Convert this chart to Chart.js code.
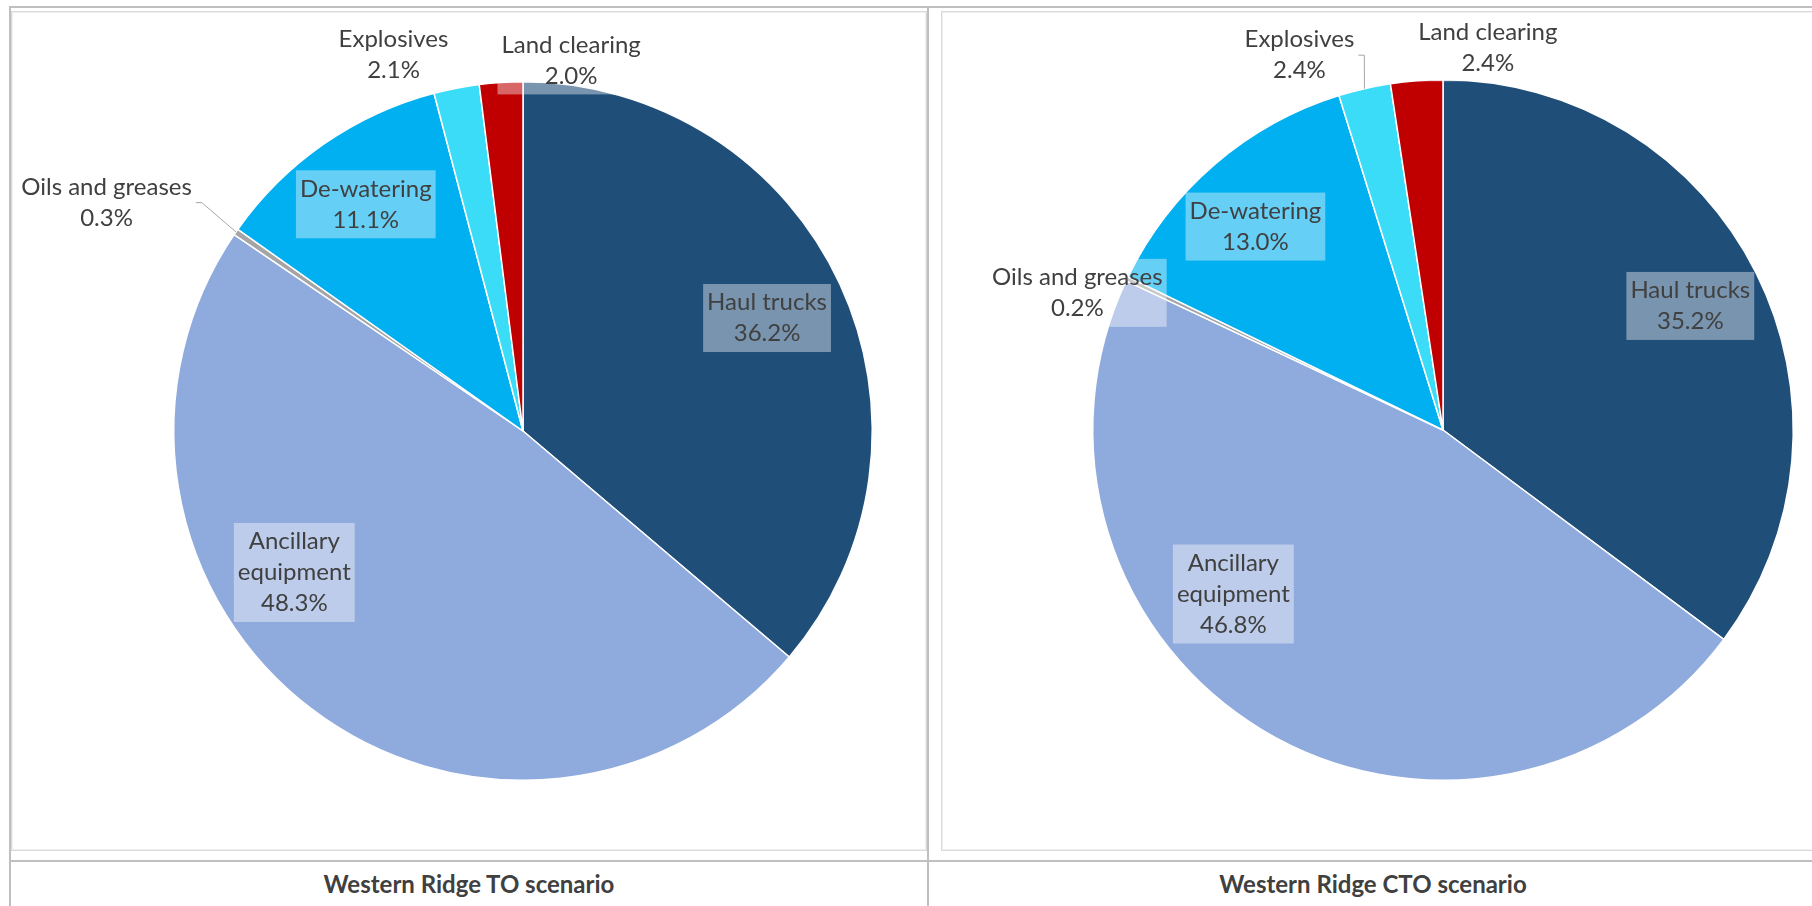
<!DOCTYPE html>
<html>
<head>
<meta charset="utf-8">
<script src="https://cdn.jsdelivr.net/npm/chart.js@4/dist/chart.umd.min.js"></script>
<style>
  body { margin: 0; width: 1812px; height: 906px; overflow: hidden; background: #fff; position: relative; font-family: Lato, "Open Sans", sans-serif; }
  .rule { position: absolute; background: #bfbfbf; }
  .frame { position: absolute; border: 1px solid #d9d9d9; box-shadow: inset 0 0 0 1px #f0f0f0; box-sizing: border-box; }
  canvas { position: absolute; }
  .caption { position: absolute; top: 862px; height: 44px; line-height: 44px; text-align: center; font-weight: bold; font-size: 24px; color: #404040; }
</style>
</head>
<body>
<div class="rule" style="left:9px;top:6px;width:1803px;height:2px"></div>
<div class="rule" style="left:9px;top:6px;width:2px;height:900px"></div>
<div class="rule" style="left:927px;top:6px;width:2px;height:900px"></div>
<div class="rule" style="left:9px;top:860px;width:1803px;height:2px"></div>

<div class="frame" style="left:11px;top:11px;width:916px;height:840px"></div>
<div class="frame" style="left:941px;top:11px;width:916px;height:840px"></div>

<canvas id="chartTO" width="915" height="838" style="left:11px;top:12px"></canvas>
<canvas id="chartCTO" width="915" height="838" style="left:942px;top:12px"></canvas>

<div class="caption" id="captionTO" style="left:11px;width:916px"></div>
<div class="caption" id="captionCTO" style="left:929px;width:888px"></div>

<script>
// data
const categories = ["Haul trucks", "Ancillary equipment", "Oils and greases", "De-watering", "Explosives", "Land clearing"]
const toValues = [36.2, 48.3, 0.3, 11.1, 2.1, 2.0]
const ctoValues = [35.2, 46.8, 0.2, 13.0, 2.4, 2.4]
const scenarioTitles = ["Western Ridge TO scenario", "Western Ridge CTO scenario"]

const sliceColors = ["#1f4e79", "#8faadc", "#a5a5a5", "#00b0f0", "#3adcf8", "#c00000"]

document.getElementById("captionTO").textContent = scenarioTitles[0]
document.getElementById("captionCTO").textContent = scenarioTitles[1]

// data labels drawn Excel style: boxed, two lines, with optional leader line
const sliceLabels = {
    id: "sliceLabels",
    afterDatasetsDraw(chart, args, opts) {
        const ctx = chart.ctx
        const meta = chart.getDatasetMeta(0)
        const values = chart.data.datasets[0].data
        const lh = opts.lineHeight
        ctx.save()
        ctx.font = opts.font
        ctx.textAlign = "center"
        ctx.textBaseline = "middle"
        meta.data.forEach((arc, i) => {
            const p = arc.getProps(["x", "y", "startAngle", "endAngle", "outerRadius"], true)
            const mid = (p.startAngle + p.endAngle) / 2
            const a = mid + opts.shift[i] * Math.PI / 180
            const r = p.outerRadius * opts.radius[i]
            const cx = p.x + Math.cos(a) * r
            const cy = p.y + Math.sin(a) * r

            const name = chart.data.labels[i]
            let lines = opts.wrap[i] ? name.split(" ") : [name]
            lines = lines.concat(values[i].toFixed(1) + "%")

            const w = Math.max(...lines.map(t => ctx.measureText(t).width)) + 8
            const h = lines.length * lh + 6
            const left = cx - w / 2
            const top = cy - h / 2

            ctx.fillStyle = "rgba(255,255,255,0.4)"
            ctx.fillRect(left, top, w, h)

            if (opts.leader[i]) {
                const ex = p.x + Math.cos(mid) * p.outerRadius
                const ey = p.y + Math.sin(mid) * p.outerRadius
                const sx = ex > cx ? left + w : left
                const stub = ex > cx ? 6 : -6
                ctx.strokeStyle = "#a6a6a6"
                ctx.lineWidth = 1
                ctx.beginPath()
                ctx.moveTo(sx, cy)
                ctx.lineTo(sx + stub, cy)
                ctx.lineTo(ex, ey)
                ctx.stroke()
            }

            ctx.fillStyle = "#404040"
            lines.forEach((t, k) => {
                ctx.fillText(t, cx, top + 3 + lh * (k + 0.5))
            })
        })
        ctx.restore()
    }
}

function makePie(id, values, padding, placement) {
    new Chart(document.getElementById(id), {
        type: "pie",
        data: {
            labels: categories,
            datasets: [{
                data: values,
                backgroundColor: sliceColors,
                borderColor: "#ffffff",
                borderWidth: 1.5
            }]
        },
        options: {
            responsive: false,
            animation: false,
            layout: { padding: padding },
            plugins: {
                legend: { display: false },
                tooltip: { enabled: false },
                sliceLabels: Object.assign({ font: "24px Lato", lineHeight: 31 }, placement)
            }
        },
        plugins: [sliceLabels]
    })
}

makePie("chartTO", toValues, { top: 69, bottom: 69, left: 162, right: 53 }, {
    radius: [0.77, 0.77, 1.36, 0.79, 1.14, 1.07],
    shift: [0, 21, -6, 0, -8, 11],
    wrap: [false, true, false, false, false, false],
    leader: [false, false, true, false, false, false]
})

makePie("chartCTO", ctoValues, { top: 67, bottom: 69, left: 150, right: 63 }, {
    radius: [0.79, 0.76, 1.115, 0.79, 1.146, 1.1],
    shift: [0, 21, -5, -2, -8, 11],
    wrap: [false, true, false, false, false, false],
    leader: [false, false, false, false, true, false]
})
</script>
</body>
</html>
